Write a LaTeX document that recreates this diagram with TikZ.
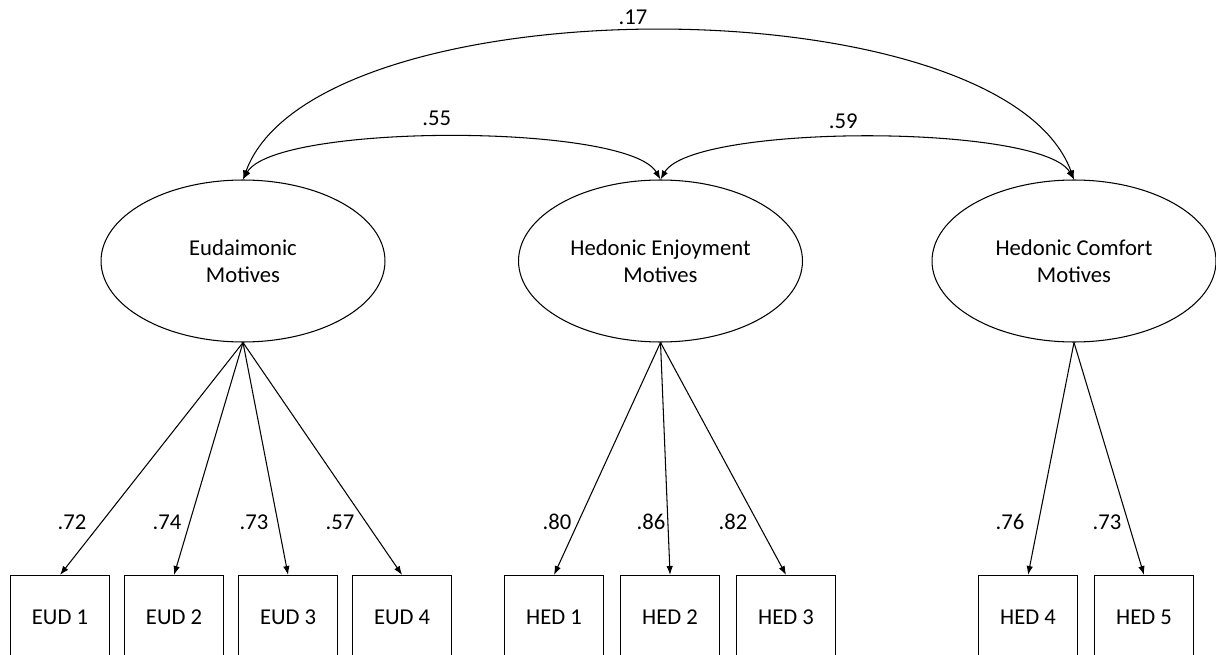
\documentclass[tikz,border=0pt]{standalone}
\usepackage{fontspec}
\setmainfont{Carlito}
\usetikzlibrary{arrows.meta, positioning, shapes.geometric}

\begin{document}
\begin{tikzpicture}[
    x=0.02cm, y=-0.02cm,
    font=\fontsize{12.9}{15.5}\selectfont,
    >=latex,
    line width=0.6pt,
    node distance=1cm and 0.28cm,
    latent/.style={
      ellipse,
      draw,
      align=center,
      inner sep=0pt,
      minimum width=5.68cm,
      minimum height=3.24cm
    },
    indicator/.style={
      rectangle,
      draw,
      align=center,
      minimum width=1.98cm,
      minimum height=1.68cm
    },
    loadarrow/.style={
      -{Latex[length=1.8mm, width=1.3mm]},
      line width=0.6pt
    },
    covarrow/.style={
      {Latex[length=1.8mm, width=1.3mm]}-{Latex[length=1.8mm, width=1.3mm]},
      line width=0.6pt
    }
]
\useasboundingbox (0,0) rectangle (1216,655);

% 1. LATENT FACTORS
\node[latent] (eud) at (243,261) {Eudaimonic\\Motives};
\node[latent] (hee) at (660.5,261) {Hedonic Enjoyment\\Motives};
\node[latent] (hec) at (1074,261) {Hedonic Comfort\\Motives};

% 2. INDICATORS
\node[indicator, anchor=north west] (eud1) at (10,575) {EUD 1};
\node[indicator, right=0.28cm of eud1] (eud2) {EUD 2};
\node[indicator, right=0.28cm of eud2] (eud3) {EUD 3};
\node[indicator, right=0.28cm of eud3] (eud4) {EUD 4};

\node[indicator, anchor=north west] (hed1) at (504,575) {HED 1};
\node[indicator, right=0.32cm of hed1] (hed2) {HED 2};
\node[indicator, right=0.32cm of hed2] (hed3) {HED 3};

\node[indicator, anchor=north west] (hed4) at (978,575) {HED 4};
\node[indicator, right=0.32cm of hed4] (hed5) {HED 5};

% 3. LOADINGS
\draw[loadarrow] (eud.south) -- (eud1.north);
\draw[loadarrow] (eud.south) -- (eud2.north);
\draw[loadarrow] (eud.south) -- (eud3.north);
\draw[loadarrow] (eud.south) -- (eud4.north);

\draw[loadarrow] (hee.south) -- (hed1.north);
\draw[loadarrow] (hee.south) -- (hed2.north);
\draw[loadarrow] (hee.south) -- (hed3.north);

\draw[loadarrow] (hec.south) -- (hed4.north);
\draw[loadarrow] (hec.south) -- (hed5.north);

\node (w1) at (72,522) {.72};
\node (w2) at (167,522) {.74};
\node (w3) at (254,522) {.73};
\node (w4) at (340,522) {.57};
\node (w5) at (557,522) {.80};
\node (w6) at (651,522) {.86};
\node (w7) at (733,522) {.82};
\node (w8) at (1010,522) {.76};
\node (w9) at (1107,522) {.73};

% 4. FACTOR CORRELATIONS
\draw[covarrow] (eud.north) to[out=60, in=120, looseness=0.4]
    node[above, xshift=-0.3cm, yshift=0.1cm] (r1) {.55} (hee.north);
\draw[covarrow] (hee.north) to[out=60, in=120, looseness=0.4]
    node[above, xshift=-0.48cm, yshift=0.06cm] (r2) {.59} (hec.north);
\draw[covarrow] (eud.north) to[out=70, in=110, looseness=0.65]
    node[above, xshift=-0.51cm] (r3) {.17} (hec.north);

\end{tikzpicture}
\end{document}
